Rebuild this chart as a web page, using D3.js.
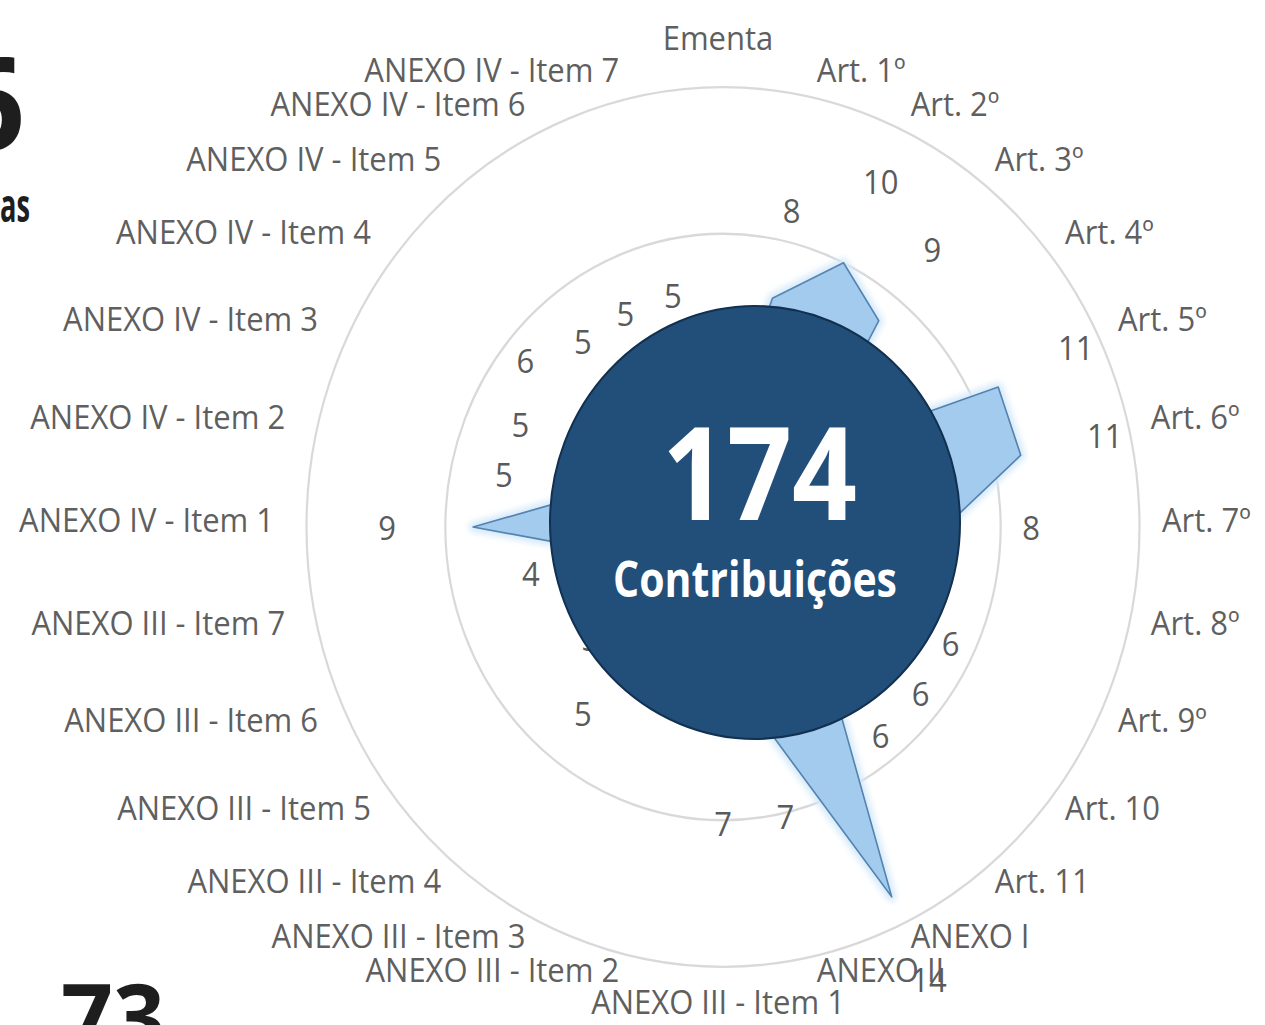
<!DOCTYPE html>
<html>
<head>
<meta charset="utf-8">
<script src="https://cdn.jsdelivr.net/npm/d3@7"></script>
<style>
  html, body { margin: 0; padding: 0; background: #ffffff; }
  svg { display: block; }
</style>
</head>
<body>
<svg id="chart" width="1265" height="1025"></svg>
<script>
// ---------- data ----------
const categories = [
  "Ementa", "Art. 1º", "Art. 2º", "Art. 3º", "Art. 4º", "Art. 5º", "Art. 6º",
  "Art. 7º", "Art. 8º", "Art. 9º", "Art. 10", "Art. 11", "ANEXO I", "ANEXO II",
  "ANEXO III - Item 1", "ANEXO III - Item 2", "ANEXO III - Item 3", "ANEXO III - Item 4",
  "ANEXO III - Item 5", "ANEXO III - Item 6", "ANEXO III - Item 7",
  "ANEXO IV - Item 1", "ANEXO IV - Item 2", "ANEXO IV - Item 3", "ANEXO IV - Item 4",
  "ANEXO IV - Item 5", "ANEXO IV - Item 6", "ANEXO IV - Item 7"
];
const values = [3, 8, 10, 9, 4, 11, 11, 8, 4, 6, 6, 6, 14, 7, 7, 3, 3, 5, 3, 2, 4, 9, 5, 5, 6, 5, 5, 5];
const gridTicks = [5, 10, 15];
const totalLabel = ["174"];
const totalCaption = ["Contribuições"];
const sideNumbers = ["6", "73"];
const sideWords = ["as"];

// ---------- layout ----------
const cx = 723, cy = 527, stretchY = 1.056;
const rMax = 416.5;
const svg = d3.select("#chart");

const r = d3.scaleLinear().domain([0, 15]).range([0, rMax]);
const angle = d3.scaleLinear().domain([0, categories.length]).range([0, 2 * Math.PI]);

const defs = svg.append("defs");
const glow = defs.append("filter").attr("id", "glow")
  .attr("x", "-20%").attr("y", "-20%").attr("width", "140%").attr("height", "140%");
glow.append("feGaussianBlur").attr("stdDeviation", 3);

const g = svg.append("g")
  .attr("transform", `translate(${cx},${cy}) scale(1,${stretchY})`);

// grid circles
g.selectAll("circle.grid").data(gridTicks).join("circle")
  .attr("class", "grid")
  .attr("r", d => r(d))
  .attr("fill", "none")
  .attr("stroke", "#d9d9d9")
  .attr("stroke-width", 2.2);

// series polygon
const radial = d3.lineRadial()
  .angle((d, i) => angle(i))
  .radius(d => r(d))
  .curve(d3.curveLinearClosed);

g.append("path")
  .datum(values)
  .attr("d", radial)
  .attr("fill", "none")
  .attr("stroke", "#d4e9fa")
  .attr("stroke-width", 9)
  .attr("stroke-linejoin", "round")
  .attr("filter", "url(#glow)");

g.append("path")
  .datum(values)
  .attr("d", radial)
  .attr("fill", "#a3cbee")
  .attr("stroke", "#5583b0")
  .attr("stroke-width", 1.6)
  .attr("stroke-linejoin", "round");

// data labels (outside each point)
const labelGap = 3.1;
g.selectAll("text.val").data(values).join("text")
  .attr("class", "val")
  .attr("x", (d, i) => r(d + labelGap) * Math.sin(angle(i)))
  .attr("y", (d, i) => -r(d + labelGap) * Math.cos(angle(i)))
  .attr("text-anchor", "middle")
  .attr("dominant-baseline", "central")
  .attr("font-family", "'Open Sans', sans-serif")
  .attr("font-size", 31)
  .attr("fill", "#5a5a5a")
  .text(d => d);

// category labels
const labelR = rMax + 27.5;
const labelShiftX = -5;
g.selectAll("text.cat").data(categories).join("text")
  .attr("class", "cat")
  .each(function (d, i) {
    const a = angle(i);
    const s = Math.sin(a), c = Math.cos(a);
    const x = labelShiftX + labelR * s;
    let yScreen = -labelR * c * stretchY * 0.985 - 8;
    let anchor = "middle";
    if (s > 0.05) anchor = "start";
    else if (s < -0.05) anchor = "end";
    else yScreen -= c * 20;
    d3.select(this)
      .attr("x", x)
      .attr("y", yScreen / stretchY)
      .attr("text-anchor", anchor);
  })
  .attr("dominant-baseline", "central")
  .attr("font-family", "'Open Sans', sans-serif")
  .attr("font-size", 31)
  .attr("fill", "#5f5f5f")
  .text(d => d);

// central total bubble
const bub = g.append("g").attr("transform", `translate(32,${(522.5 - cy) / stretchY})`);
bub.append("circle")
  .attr("r", 205)
  .attr("fill", "#214f7a")
  .attr("stroke", "#12304f")
  .attr("stroke-width", 2);
bub.selectAll("text.total").data(totalLabel).join("text")
  .attr("class", "total")
  .attr("x", 4.5)
  .attr("y", (520 - 522.5) / stretchY)
  .attr("text-anchor", "middle")
  .attr("font-family", "'Open Sans', sans-serif")
  .attr("font-weight", 700)
  .attr("font-size", 122)
  .attr("textLength", 195)
  .attr("lengthAdjust", "spacingAndGlyphs")
  .attr("fill", "#ffffff")
  .text(d => d);
bub.selectAll("text.caption").data(totalCaption).join("text")
  .attr("class", "caption")
  .attr("x", 0)
  .attr("y", (597 - 522.5) / stretchY)
  .attr("text-anchor", "middle")
  .attr("font-family", "'Open Sans', sans-serif")
  .attr("font-weight", 700)
  .attr("font-size", 47)
  .attr("textLength", 284)
  .attr("lengthAdjust", "spacingAndGlyphs")
  .attr("fill", "#ffffff")
  .text(d => d);

// partial side KPI texts (cropped by the page edges)
svg.append("text")
  .attr("x", 25).attr("y", 150)
  .attr("text-anchor", "end")
  .attr("font-family", "'Open Sans', sans-serif")
  .attr("font-weight", 700)
  .attr("font-size", 130)
  .attr("fill", "#1e1e1e")
  .text(sideNumbers[0]);
svg.append("text")
  .attr("x", 0).attr("y", 222)
  .attr("text-anchor", "start")
  .attr("font-family", "'Open Sans', sans-serif")
  .attr("font-weight", 700)
  .attr("font-size", 46)
  .attr("textLength", 30)
  .attr("lengthAdjust", "spacingAndGlyphs")
  .attr("fill", "#1e1e1e")
  .text(sideWords[0]);
svg.append("text")
  .attr("x", 61).attr("y", 1050)
  .attr("text-anchor", "start")
  .attr("font-family", "'Open Sans', sans-serif")
  .attr("font-weight", 700)
  .attr("font-size", 92)
  .attr("textLength", 104)
  .attr("lengthAdjust", "spacingAndGlyphs")
  .attr("fill", "#1e1e1e")
  .text(sideNumbers[1]);
</script>
</body>
</html>
